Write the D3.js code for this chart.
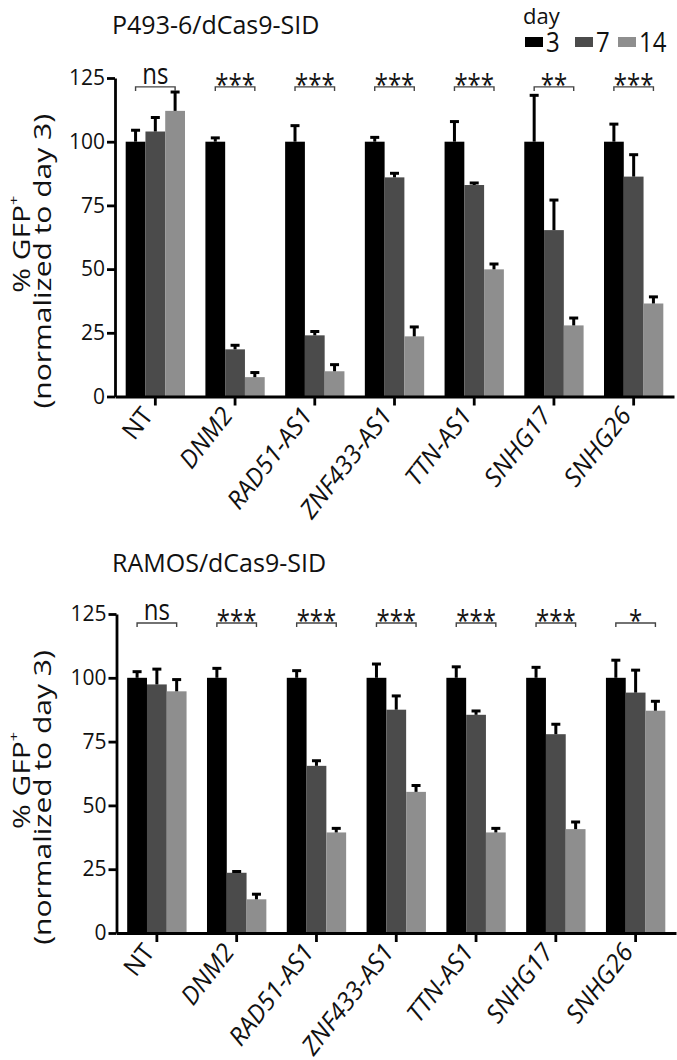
<!DOCTYPE html>
<html><head><meta charset="utf-8">
<script src="https://cdn.jsdelivr.net/npm/d3@7"></script>
<style>
body{margin:0;background:#fff}
svg text{font-family:'Open Sans',sans-serif;fill:#111}
</style>
</head><body>
<svg id="chart" width="677" height="1060"></svg>
<script>
const categories = ["NT","DNM2","RAD51-AS1","ZNF433-AS1","TTN-AS1","SNHG17","SNHG26"];
const days = ["3","7","14"];
const yTicks = [0,25,50,75,100,125];

// P493-6/dCas9-SID
const topDay3  = [100,100,100,100,100,100,100];
const topDay7  = [104,18.5,24,86,83,65.3,86.3];
const topDay14 = [112.1,7.6,9.9,23.6,49.9,27.9,36.5];
const topErr3  = [4.5,1.5,6.3,1.7,7.9,18.2,6.9];
const topErr7  = [5.5,1.6,1.5,1.6,0.8,11.8,8.6];
const topErr14 = [7.4,1.8,2.6,3.7,2.1,2.9,2.6];
const topSig   = ["ns","***","***","***","***","**","***"];

// RAMOS/dCas9-SID
const botDay3  = [100,100,100,100,100,100,100];
const botDay7  = [97.4,23.6,65.5,87.5,85.5,77.9,94.2];
const botDay14 = [94.7,13.2,39.4,55.3,39.4,40.7,87.1];
const botErr3  = [2.4,3.7,2.8,5.4,4.3,4.1,6.9];
const botErr7  = [6.0,0.5,2.0,5.4,1.5,3.9,8.8];
const botErr14 = [4.6,2.0,1.6,2.5,1.6,2.8,3.7];
const botSig   = ["ns","***","***","***","***","***","*"];

const colors = ["#000000","#4b4b4b","#8e8e8e"];
const bracketValue = 121.5;

const svg = d3.select("#chart");

const panels = [
  {title:"P493-6/dCas9-SID", titleY:34, vals:[topDay3,topDay7,topDay14], errs:[topErr3,topErr7,topErr14], sig:topSig,
   yBottom:396.5, yTop:78, xLeft:115, xRight:674},
  {title:"RAMOS/dCas9-SID", titleY:572, vals:[botDay3,botDay7,botDay14], errs:[botErr3,botErr7,botErr14], sig:botSig,
   yBottom:933, yTop:614, xLeft:116.5, xRight:676}
];

panels.forEach(p => {
  const g = svg.append("g");
  const y = d3.scaleLinear().domain([0,125]).range([p.yBottom, p.yTop]);
  const x = d3.scaleBand().domain(categories).range([p.xLeft, p.xRight]).paddingInner(0.256).paddingOuter(0.134);
  const xs = d3.scaleBand().domain(days).range([0, x.bandwidth()]);

  // bars
  days.forEach((d, di) => {
    const gd = g.append("g");
    gd.selectAll("rect").data(categories).join("rect")
      .attr("x", c => x(c) + xs(d))
      .attr("y", (c, i) => y(p.vals[di][i]))
      .attr("width", xs.bandwidth())
      .attr("height", (c, i) => y(0) - y(p.vals[di][i]))
      .attr("fill", colors[di]);
    const eb = gd.selectAll("g.err").data(categories).join("g").attr("class","err");
    eb.append("line")
      .attr("x1", c => x(c) + xs(d) + xs.bandwidth()/2)
      .attr("x2", c => x(c) + xs(d) + xs.bandwidth()/2)
      .attr("y1", (c, i) => y(p.vals[di][i]))
      .attr("y2", (c, i) => y(p.vals[di][i] + p.errs[di][i]))
      .attr("stroke", "#000").attr("stroke-width", 3);
    eb.append("line")
      .attr("x1", c => x(c) + xs(d) + xs.bandwidth()/2 - 4.5)
      .attr("x2", c => x(c) + xs(d) + xs.bandwidth()/2 + 4.5)
      .attr("y1", (c, i) => y(p.vals[di][i] + p.errs[di][i]))
      .attr("y2", (c, i) => y(p.vals[di][i] + p.errs[di][i]))
      .attr("stroke", "#000").attr("stroke-width", 3);
  });

  // y axis
  const ya = g.append("g").attr("transform", `translate(${p.xLeft},0)`)
    .call(d3.axisLeft(y).tickValues(yTicks).tickSize(8).tickSizeOuter(0).tickPadding(2));
  ya.select(".domain").attr("stroke","#000").attr("stroke-width",2.8);
  ya.selectAll(".tick line").attr("stroke","#000").attr("stroke-width",2.8);
  ya.selectAll(".tick text").attr("font-size",21).attr("font-family","'Open Sans',sans-serif").attr("fill","#111");

  // x axis
  const xa = g.append("g").attr("transform", `translate(0,${p.yBottom})`)
    .call(d3.axisBottom(x).tickSize(9).tickSizeOuter(0).tickFormat(""));
  xa.select(".domain").attr("stroke","#000").attr("stroke-width",2.8);
  xa.selectAll(".tick line").attr("stroke","#000").attr("stroke-width",2.8);

  // x labels
  g.selectAll("text.xl").data(categories).join("text").attr("class","xl")
    .attr("transform", c => `translate(${x(c) + x.bandwidth()/2 - 8},${p.yBottom + 14}) rotate(-52)`)
    .attr("text-anchor","end").attr("dy","0.35em")
    .attr("font-size",25)
    .attr("font-style", c => c === "NT" ? "normal" : "italic")
    .text(c => c);

  // significance brackets
  const by = y(bracketValue);
  const bg = g.selectAll("g.sig").data(categories).join("g").attr("class","sig");
  bg.append("path")
    .attr("d", c => {
      const x1 = x(c) + xs("3") + xs.bandwidth()/2, x2 = x(c) + xs("14") + xs.bandwidth()/2;
      return `M${x1},${by+4}V${by}H${x2}V${by+4}`;
    })
    .attr("fill","none").attr("stroke","#444").attr("stroke-width",1.4);
  bg.append("text")
    .attr("transform", (c, i) => `translate(${x(c) + x.bandwidth()/2},${p.sig[i] === "ns" ? by - 3.3 : by + 8}) scale(1,1.25)`)
    .attr("text-anchor","middle")
    .attr("font-size",24)
    .attr("fill","#222")
    .text((c, i) => p.sig[i]);

  // title
  g.append("text").attr("x",112).attr("y",p.titleY).attr("font-size",25).text(p.title);

  // y axis title
  const cy = (p.yBottom + p.yTop) / 2;
  g.append("text")
    .attr("transform", `translate(30,${cy + 7}) scale(1,1.25) rotate(-90)`)
    .attr("text-anchor","middle").attr("font-size",24)
    .call(t => {
      t.append("tspan").text("% GFP");
      t.append("tspan").attr("font-size",13).attr("dy","-0.9em").text("+");
    });
  g.append("text")
    .attr("transform", `translate(51,${cy + 24}) scale(1,1.25) rotate(-90)`)
    .attr("text-anchor","middle").attr("font-size",24)
    .text("(normalized to day 3)");
});

// legend
const lg = svg.append("g");
lg.append("text").attr("x",523).attr("y",24).attr("font-size",22).text("day");
const legendX = [525, 575, 618];
lg.selectAll("rect").data(days).join("rect")
  .attr("x", (d, i) => legendX[i]).attr("y", 37).attr("width", 18).attr("height", 10)
  .attr("fill", (d, i) => colors[i]);
lg.selectAll("text.lt").data(days).join("text").attr("class","lt")
  .attr("transform", (d, i) => `translate(${legendX[i] + 21},52) scale(1,1.1)`)
  .attr("font-size",24).text(d => d);
</script>
</body></html>
